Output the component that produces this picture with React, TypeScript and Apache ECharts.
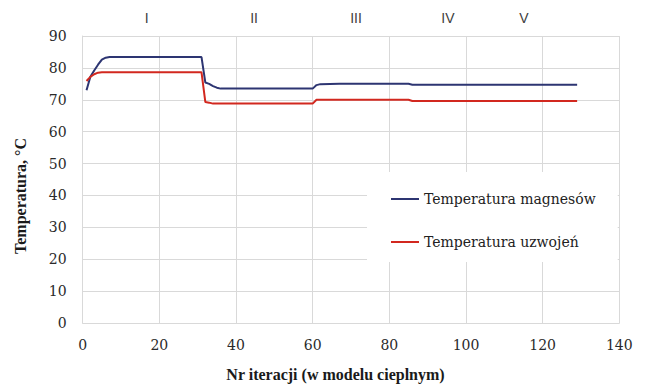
import React, { useEffect, useRef } from "react";
import * as echarts from "echarts";

// Iteration numbers and temperatures (°C) at the points where the curves change
const magnetIters = [1, 2, 3, 4, 5, 6, 7, 31, 32, 33, 34, 35, 36, 60, 61, 62, 67, 85, 86, 129];
const magnetTemps = [73.0, 77.2, 79.2, 81.0, 82.6, 83.2, 83.4, 83.4, 75.4, 75.0, 74.3, 73.8, 73.5, 73.5, 74.6, 74.9, 75.0, 75.0, 74.7, 74.7];

const windingIters = [1, 2, 3, 4, 5, 31, 32, 33, 34, 60, 61, 85, 86, 129];
const windingTemps = [75.9, 77.2, 78.0, 78.5, 78.6, 78.6, 69.3, 69.1, 68.8, 68.8, 70.0, 70.0, 69.6, 69.6];

// Stage labels along the top and their positions on the iteration axis
const stageLabels = ["I", "II", "III", "IV", "V"];
const stagePositions = [16.7, 44.7, 71.3, 95.3, 115.1];

const xTicks = { min: 0, max: 140, interval: 20 };
const yTicks = { min: 0, max: 90, interval: 10 };

const seriesNames = ["Temperatura magnesów", "Temperatura uzwojeń"];
const seriesColors = ["#2d3572", "#d2281f"];

const zip = (xs: number[], ys: number[]) => xs.map((x, i) => [x, ys[i]]);

export default function App() {
  const ref = useRef<HTMLDivElement>(null);

  useEffect(() => {
    if (!ref.current) return;
    const chart = echarts.init(ref.current, undefined, { renderer: "svg" });
    const gridColor = "#d9d9d9";
    const tickFont = { fontFamily: "DejaVu Serif", fontSize: 14, color: "#2a2a2a" };
    const titleFont = { fontFamily: "Liberation Serif", fontSize: 16, fontWeight: "bold" as const, color: "#1a1a1a" };

    chart.setOption({
      animation: false,
      backgroundColor: "#ffffff",
      grid: { left: 82.7, right: 26.7, top: 36, bottom: 60 },
      xAxis: {
        type: "value",
        ...xTicks,
        name: "Nr iteracji (w modelu cieplnym)",
        nameLocation: "middle",
        nameGap: 43,
        nameTextStyle: { ...titleFont, padding: [0, 31, 0, 0] },
        axisLine: { show: true, lineStyle: { color: gridColor, width: 1 } },
        axisTick: { show: false },
        axisLabel: { ...tickFont, margin: 15 },
        splitLine: { show: true, lineStyle: { color: gridColor, width: 1 } },
      },
      yAxis: {
        type: "value",
        ...yTicks,
        name: "Temperatura, °C",
        nameLocation: "middle",
        nameGap: 54,
        nameTextStyle: { ...titleFont, padding: [0, 33, 0, 0] },
        axisLine: { show: true, lineStyle: { color: gridColor, width: 1 } },
        axisTick: { show: false },
        axisLabel: { ...tickFont, margin: 16 },
        splitLine: { show: true, lineStyle: { color: gridColor, width: 1 } },
      },
      legend: {
        orient: "vertical",
        left: 367,
        top: 172,
        data: seriesNames,
        backgroundColor: "#ffffff",
        padding: [17, 22, 10, 24],
        itemGap: 23,
        itemWidth: 28,
        itemHeight: 2,
        icon: "rect",
        textStyle: { fontFamily: "DejaVu Serif", fontSize: 14, color: "#222", lineHeight: 20 },
      },
      series: [
        {
          name: seriesNames[0],
          type: "line",
          data: zip(magnetIters, magnetTemps),
          symbol: "none",
          lineStyle: { color: seriesColors[0], width: 2 },
          itemStyle: { color: seriesColors[0] },
          z: 3,
        },
        {
          name: seriesNames[1],
          type: "line",
          data: zip(windingIters, windingTemps),
          symbol: "none",
          lineStyle: { color: seriesColors[1], width: 2 },
          itemStyle: { color: seriesColors[1] },
          z: 3,
        },
      ],
    });

    // Stage numerals placed above the plot through the x axis scale
    const graphic = stageLabels.map((label, i) => {
      const px = chart.convertToPixel({ xAxisIndex: 0 }, stagePositions[i]) as number;
      return {
        type: "text",
        x: px,
        y: 18,
        style: {
          text: label,
          fontFamily: "Liberation Sans",
          fontSize: 14,
          fill: "#404040",
          align: "center",
          verticalAlign: "middle",
        },
      };
    });
    chart.setOption({ graphic });

    return () => chart.dispose();
  }, []);

  return (
    <div
      ref={ref}
      style={{ position: "fixed", left: 0, top: 0, width: 646, height: 387 }}
    />
  );
}
